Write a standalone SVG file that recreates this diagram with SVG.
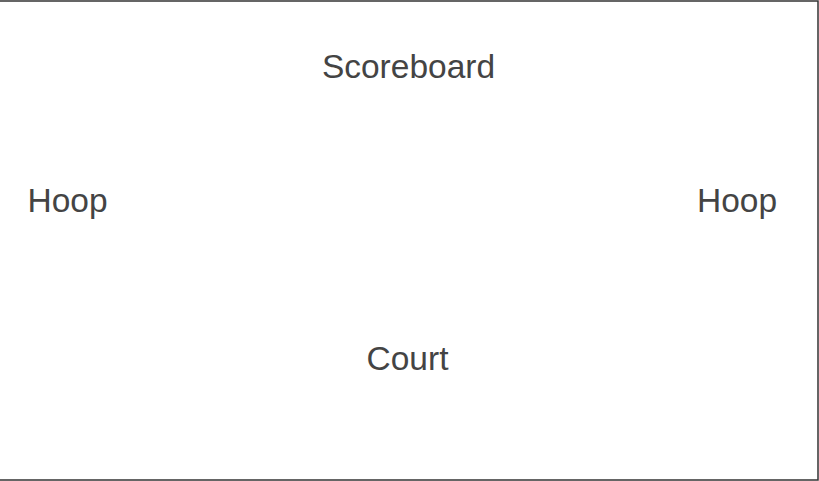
<svg xmlns="http://www.w3.org/2000/svg" width="819" height="481" viewBox="0 0 819 481">
<style>
text{font-family:"Liberation Sans",Arial,sans-serif;font-size:33.5px;fill:#444;text-anchor:middle}
</style>
<rect width="819" height="481" fill="#fff"/>
<path d="M0,1 H818 V480 H0" fill="none" stroke="#333" stroke-width="1.5"/>
<g id="scoreboard"><text x="408.5" y="78">Scoreboard</text></g>
<g id="hoop-left"><text x="67.5" y="212">Hoop</text></g>
<g id="hoop-right"><text x="737" y="212">Hoop</text></g>
<g id="court"><text x="407.5" y="370">Court</text></g>
<g id="connectors"></g>
</svg>
